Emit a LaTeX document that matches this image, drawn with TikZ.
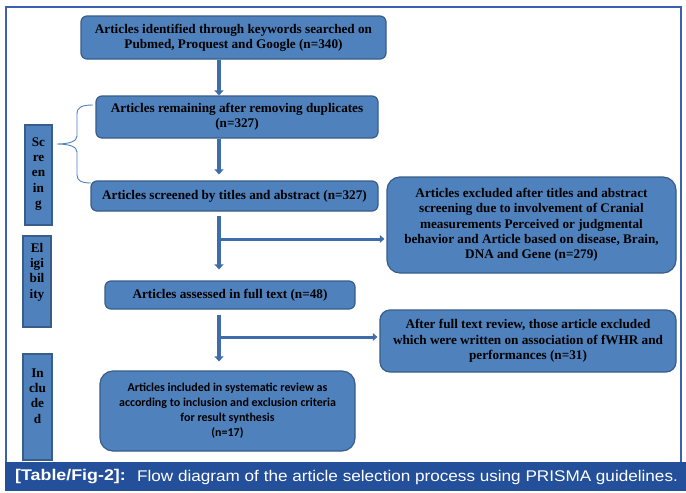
\documentclass[tikz,border=0pt]{standalone}
\usepackage{fontspec}
\setmainfont{Liberation Serif}
\newfontfamily\carl{Carlito}
\newfontfamily\capfont{Liberation Sans}
\usetikzlibrary{arrows.meta}
\definecolor{boxfill}{HTML}{4F81BD}
\definecolor{boxdraw}{HTML}{385D8A}
\definecolor{arrowc}{HTML}{3F6CAB}
\definecolor{framec}{HTML}{3A62B0}
\definecolor{capbar}{HTML}{24509B}
\definecolor{bracec}{HTML}{4F81BD}
\begin{document}
\begin{tikzpicture}[x=1pt,y=-1pt,
  box/.style={draw=boxdraw, line width=1.2pt, fill=boxfill, rounded corners=6pt,
    align=center, inner sep=0pt, text=black,
    font=\bfseries\fontsize{13.2}{15.3}\selectfont},
  bigbox/.style={box, rounded corners=13pt},
  sidebox/.style={draw=boxdraw, line width=1.2pt, fill=boxfill, inner sep=0pt},
  sidetext/.style={align=center, inner sep=0pt, text=black,
    font=\bfseries\fontsize{13.2}{15.3}\selectfont},
  captext/.style={anchor=west, inner sep=0pt, text=white},
  vflow/.style={draw=arrowc, line width=4pt, -{Triangle[width=9pt,length=5pt]}},
  hflow/.style={draw=arrowc, line width=3pt, -{Triangle[width=7.5pt,length=4.5pt]}},
  bracel/.style={draw=bracec, line width=0.9pt}]
\useasboundingbox (0,0) rectangle (686,493);
\fill[white] (0,0) rectangle (686,493);
% frame
\draw[framec, line width=2pt] (5.5,462) -- (5.5,7) -- (680.5,7) -- (680.5,462);

% main boxes
\node[box, minimum width=305pt, minimum height=43pt] (b1) at (233.5,37.5)
  {Articles identified through keywords searched on\\Pubmed, Proquest and Google (n=340)};
\node[box, minimum width=282pt, minimum height=42pt] (b2) at (237,117)
  {Articles remaining after removing duplicates\\(n=327)};
\node[box, minimum width=287pt, minimum height=30pt] (b3) at (234.5,196)
  {Articles screened by titles and abstract (n=327)};
\node[bigbox, minimum width=289pt, minimum height=96pt] (b5) at (531.5,225)
  {Articles excluded after titles and abstract\\screening due to involvement of Cranial\\measurements Perceived or judgmental\\behavior and Article based on disease, Brain,\\DNA and Gene (n=279)};
\node[box, minimum width=250pt, minimum height=28pt] (b4) at (230,295)
  {Articles assessed in full text (n=48)};
\node[box, rounded corners=10pt, minimum width=296pt, minimum height=62pt] (b6) at (528,341)
  {After full text review, those article excluded\\which were written on association of fWHR and\\performances (n=31)};
\node[bigbox, minimum width=255pt, minimum height=80pt,
  font=\carl\bfseries\fontsize{12}{15}\selectfont] (b7) at (227.5,411)
  {Articles included in systematic review as\\according to inclusion and exclusion criteria\\for result synthesis\\(n=17)};

% side boxes
\node[sidebox, minimum width=27pt, minimum height=100pt] (s1) at (38.5,175) {};
\node[sidetext] (s1t) at (38.5,174) {Sc\\re\\en\\in\\g};
\node[sidebox, minimum width=28pt, minimum height=91pt] (s2) at (37,281.5) {};
\node[sidetext] (s2t) at (37,272) {El\\igi\\bil\\ity};
\node[sidebox, minimum width=29pt, minimum height=106pt] (s3) at (37.5,407) {};
\node[sidetext] (s3t) at (37.5,396) {In\\clu\\de\\d};

% caption bar
\fill[capbar] (4.5,462) rectangle (686,491);
\node[captext] (cap1) at (15,477)
  {\scalebox{1.15}[1]{\capfont\bfseries\fontsize{15.5}{17}\selectfont [Table/Fig-2]:}};
\node[captext] (cap2) at (137,477)
  {\scalebox{1.105}[1]{\capfont\fontsize{15.5}{17}\selectfont Flow diagram of the article selection process using PRISMA guidelines.}};

% brace
\draw[bracel] (93,105) .. controls (82,105) and (77,107) .. (77,114) -- (77,136)
  .. controls (77,141) and (70,144) .. (57,144)
  .. controls (70,144) and (77,147) .. (77,152) -- (77,175)
  .. controls (77,181) and (82,183) .. (91,183);

% flow
\coordinate (ax) at (219,0);
\draw[vflow] (b1.south -| ax) -- (b2.north -| ax);
\draw[vflow, shorten >=6pt] (b2.south -| ax) -- (b3.north -| ax);
\draw[vflow, shorten <=4pt, shorten >=11pt] (b3.south -| ax) -- (b4.north -| ax);
\coordinate (j1) at (220,239);
\draw[hflow, shorten >=2pt] (j1) -- (b5.west |- j1);
\draw[vflow, shorten <=5pt, shorten >=9pt] (b4.south -| ax) -- (b7.north -| ax);
\coordinate (j2) at (220,337);
\draw[hflow, shorten >=2pt] (j2) -- (b6.west |- j2);
\end{tikzpicture}
\end{document}
